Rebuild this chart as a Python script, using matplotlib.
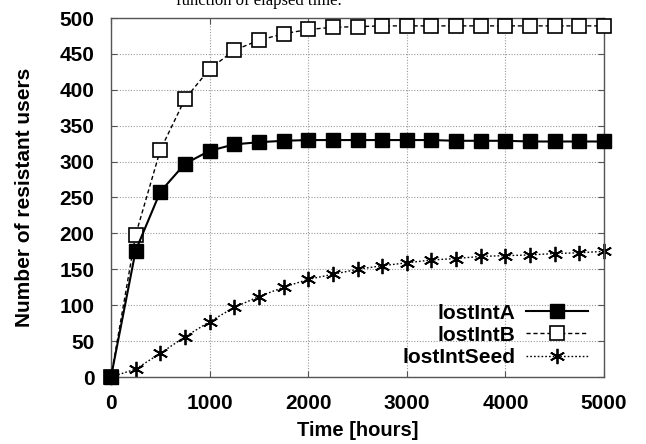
import numpy as np
import matplotlib
matplotlib.use("Agg")
import matplotlib.pyplot as plt

# time axis (hours), one sample every 250h
hours = np.arange(0, 5001, 250)

lost_int_a = [0, 176, 258, 297, 315, 324, 327, 329, 330, 330, 330, 330,
              330, 330, 329, 329, 329, 328, 328, 328, 328]
lost_int_b = [0, 198, 316, 387, 429, 455, 469, 478, 484, 487, 488, 489,
              489, 489, 489, 489, 489, 489, 489, 489, 489]
lost_int_seed = [0, 11, 33, 56, 77, 97, 112, 125, 136, 143, 150, 155,
                 159, 163, 165, 168, 169, 170, 172, 173, 175]

plt.rcParams['font.family'] = ['Liberation Sans', 'DejaVu Sans']
plt.rcParams['font.weight'] = 'bold'

fig = plt.figure(figsize=(6.46, 4.44), dpi=100)
ax = fig.add_axes([111/646, 1 - 377/444, (604-111)/646, (377-18)/444])

ax.plot(hours, lost_int_a, color='black', lw=1.5, ls='-', clip_on=False, zorder=4,
        marker='s', ms=10, mfc='black', mec='black', label='lostIntA')
ax.plot(hours, lost_int_b, color='black', lw=1.0, ls=(0, (3, 2)), clip_on=False, zorder=3,
        marker='s', ms=10, mfc='white', mec='black', mew=1.2, label='lostIntB')
ax.plot(hours, lost_int_seed, color='black', lw=1.0, ls=(0, (1.2, 1.5)), clip_on=False,
        marker=(6, 2, 0), ms=11, mec='black', mew=1.3, label='lostIntSeed')

ax.set_xlim(0, 5000)
ax.set_ylim(0, 500)
ax.set_xticks(np.arange(0, 5001, 1000))
ax.set_yticks(np.arange(0, 501, 50))
ax.tick_params(direction='in', length=4, labelsize=15, top=True, right=True,
               color='#555555', pad=12)
for lab in ax.get_xticklabels() + ax.get_yticklabels():
    lab.set_fontweight('bold')
for sp in ax.spines.values():
    sp.set_color('#555555')
    sp.set_linewidth(1.0)

ax.grid(True, color='#999999', ls=(0, (1, 1.5)), lw=0.8)

ax.set_xlabel('Time [hours]', fontsize=14.5, fontweight='bold', labelpad=6)
ax.set_ylabel('Number of resistant users', fontsize=15, fontweight='bold', labelpad=18)

leg = ax.legend(loc='lower right', frameon=False, markerfirst=False,
                fontsize=15, handlelength=3.0, handletextpad=0.5,
                labelspacing=0.15, borderaxespad=0.0,
                bbox_to_anchor=(0.985, 0.005))
for t in leg.get_texts():
    t.set_fontweight('bold')

# cropped caption line at the very top of the image
fig.text(259/646, 1 - 1/444, 'function of elapsed time.', family='Liberation Serif',
         fontsize=12, fontweight='normal', ha='center', va='center')

plt.savefig('out.png', dpi=100)
plt.close('all')
